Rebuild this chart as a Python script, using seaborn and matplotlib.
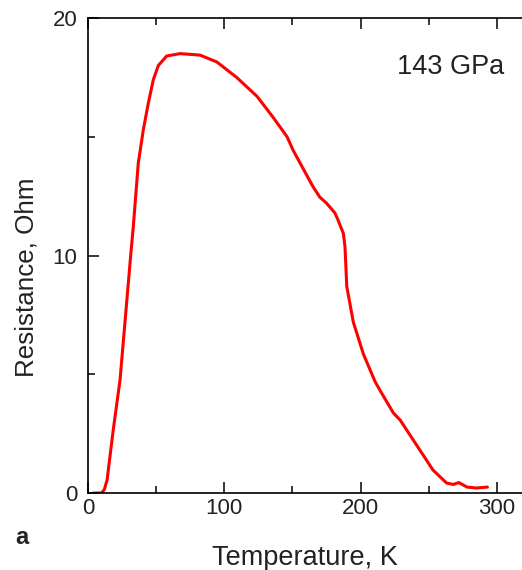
import matplotlib
matplotlib.use("Agg")
import matplotlib.pyplot as plt
import seaborn as sns
import pandas as pd
from matplotlib.ticker import MultipleLocator

# Data
temperature_K = [4, 10, 12, 14, 18.5, 23.5, 31, 33.2, 36.9, 40.6, 44.2, 47.9, 51.6,
                 57.7, 67.5, 82, 94.5, 109, 124, 136, 146, 150.4, 155.5, 165, 170,
                 175, 181, 183, 187.3, 188.5, 189.2, 189.8, 194.6, 202, 210.5, 214,
                 224, 229, 243.5, 253, 263, 268, 272, 278, 285, 293]
resistance_Ohm = [0, 0, 0.15, 0.55, 2.65, 4.76, 9.8, 11.2, 13.9, 15.3, 16.4, 17.4, 18.0,
                  18.4, 18.5, 18.44, 18.15, 17.5, 16.7, 15.8, 15.0, 14.44, 13.9, 12.9,
                  12.46, 12.2, 11.8, 11.55, 10.93, 10.37, 9.5, 8.7, 7.2, 5.85, 4.7, 4.34,
                  3.37, 3.07, 1.8, 0.97, 0.42, 0.36, 0.44, 0.25, 0.21, 0.25]
x_ticks = [0, 100, 200, 300]
y_ticks = [0, 10, 20]
x_label = "Temperature, K"
y_label = "Resistance, Ohm"
annotation = "143 GPa"
panel = "a"

df = pd.DataFrame({"T": temperature_K, "R": resistance_Ohm})

sns.set_style("ticks")
plt.rcParams["font.family"] = ["Liberation Sans", "DejaVu Sans"]

fig = plt.figure(figsize=(5.22, 5.70), dpi=100)
ax = fig.add_axes([88 / 522, 1 - 493 / 570, 1 - 88 / 522, (493 - 18) / 570])

sns.lineplot(data=df, x="T", y="R", ax=ax, color="#ff0000", linewidth=2.2,
             sort=False, estimator=None)

ax.set_xlim(0, (522 - 88) / 1.3633)
ax.set_ylim(0, 20)
ax.set_xticks(x_ticks)
ax.set_yticks(y_ticks)
ax.xaxis.set_minor_locator(MultipleLocator(50))
ax.yaxis.set_minor_locator(MultipleLocator(5))
ax.tick_params(axis="both", which="both", direction="in", top=True, right=False,
               colors="black", labelsize=16, width=1.1, labelcolor="#222222")
ax.tick_params(axis="both", which="major", length=8)
ax.tick_params(axis="both", which="minor", length=5)
ax.tick_params(axis="x", which="major", pad=3.5)
ax.tick_params(axis="y", which="major", pad=7.5)

for side in ["left", "bottom", "top"]:
    ax.spines[side].set_visible(True)
    ax.spines[side].set_linewidth(1.2)
    ax.spines[side].set_color("black")
ax.spines["right"].set_visible(False)

ax.set_xlabel(x_label, fontsize=19.5, color="#222222", labelpad=18.5)
ax.set_ylabel(y_label, fontsize=18.7, color="#222222")
ax.yaxis.set_label_coords(-0.115, 0.455)

fig.text(397 / 522, 1 - 67 / 570, annotation, fontsize=19.5, color="#222222",
         ha="left", va="center")
fig.text(15 / 522, 1 - 538 / 570, panel, fontsize=17, fontweight="bold",
         color="#222222", ha="left", va="center")

fig.savefig("out.png", dpi=100)
